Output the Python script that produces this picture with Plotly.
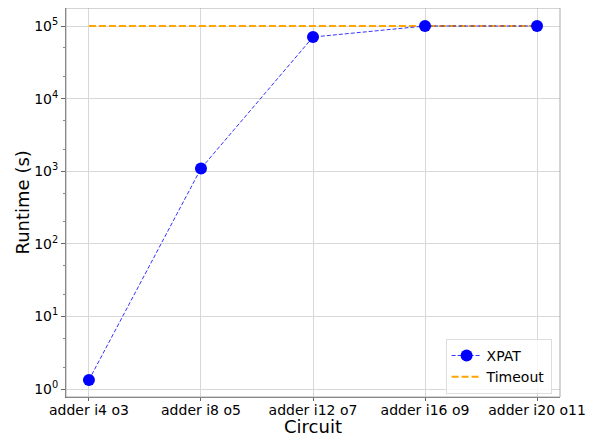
import plotly.graph_objects as go

circuits = ["adder i4 o3", "adder i8 o5", "adder i12 o7", "adder i16 o9", "adder i20 o11"]
xpat_runtime = [1.33, 1090, 70500, 100000, 100000]
timeout = [100000, 100000, 100000, 100000, 100000]
ytick_vals = [1, 10, 100, 1000, 10000, 100000]
ytick_text = ["10<sup>0</sup>", "10<sup>1</sup>", "10<sup>2</sup>", "10<sup>3</sup>", "10<sup>4</sup>", "10<sup>5</sup>"]

xi = list(range(len(circuits)))

fig = go.Figure()
fig.add_trace(go.Scatter(
    x=xi, y=timeout, mode="lines", name="Timeout",
    line=dict(color="#FFA500", width=2, dash="7px,3px"),
))
fig.add_trace(go.Scatter(
    x=xi, y=xpat_runtime, mode="lines+markers", name="XPAT",
    line=dict(color="rgba(0,0,255,0.8)", width=1, dash="4px,2px"),
    marker=dict(color="#0000FF", size=12),
))

font = "DejaVu Sans, sans-serif"
plot_w = 589 - 58 - 37
plot_h = 426 - 0 - 37
fig.update_layout(
    width=589, height=426,
    margin=dict(l=58, r=37, t=0, b=37, autoexpand=False),
    paper_bgcolor="white", plot_bgcolor="white",
    font=dict(family=font, size=14, color="black"),
    showlegend=True,
    legend=dict(
        x=0.983, y=0.008, xanchor="right", yanchor="bottom",
        bgcolor="rgba(255,255,255,0.8)", bordercolor="#dddddd", borderwidth=1,
        font=dict(size=14), traceorder="reversed",
    ),
    shapes=[dict(type="rect", xref="paper", yref="paper", x0=0, y0=0, x1=1, y1=1,
                 line=dict(color="#aaaaaa", width=1), layer="above")],
    annotations=[
        dict(text="Circuit", xref="paper", yref="paper", x=0.5, y=-29 / plot_h,
             xanchor="center", yanchor="middle", showarrow=False,
             font=dict(size=18), borderpad=0),
        dict(text="Runtime (s)", xref="paper", yref="paper", x=-44 / plot_w, y=0.5,
             xanchor="center", yanchor="middle", showarrow=False, textangle=-90,
             font=dict(size=18), borderpad=0),
    ],
)
fig.update_xaxes(
    range=[-0.205, 4.205], tickmode="array", tickvals=xi, ticktext=circuits,
    showgrid=True, gridcolor="#d8d8d8", gridwidth=1,
    showline=True, linecolor="#666666", linewidth=1,
    ticks="outside", ticklen=3, tickcolor="#666666",
    tickfont=dict(size=14), ticklabelstandoff=-3,
    zeroline=False, automargin=False,
)
fig.update_yaxes(
    type="log", range=[-0.11, 5.248],
    tickmode="array", tickvals=ytick_vals, ticktext=ytick_text,
    showgrid=True, gridcolor="#d8d8d8", gridwidth=1,
    showline=True, linecolor="#666666", linewidth=1,
    ticks="outside", ticklen=4, tickcolor="#666666",
    tickfont=dict(size=14),
    minor=dict(ticks="outside", ticklen=2, tickcolor="#888888", showgrid=False),
    zeroline=False, automargin=False,
)

fig.write_html("out.html")
